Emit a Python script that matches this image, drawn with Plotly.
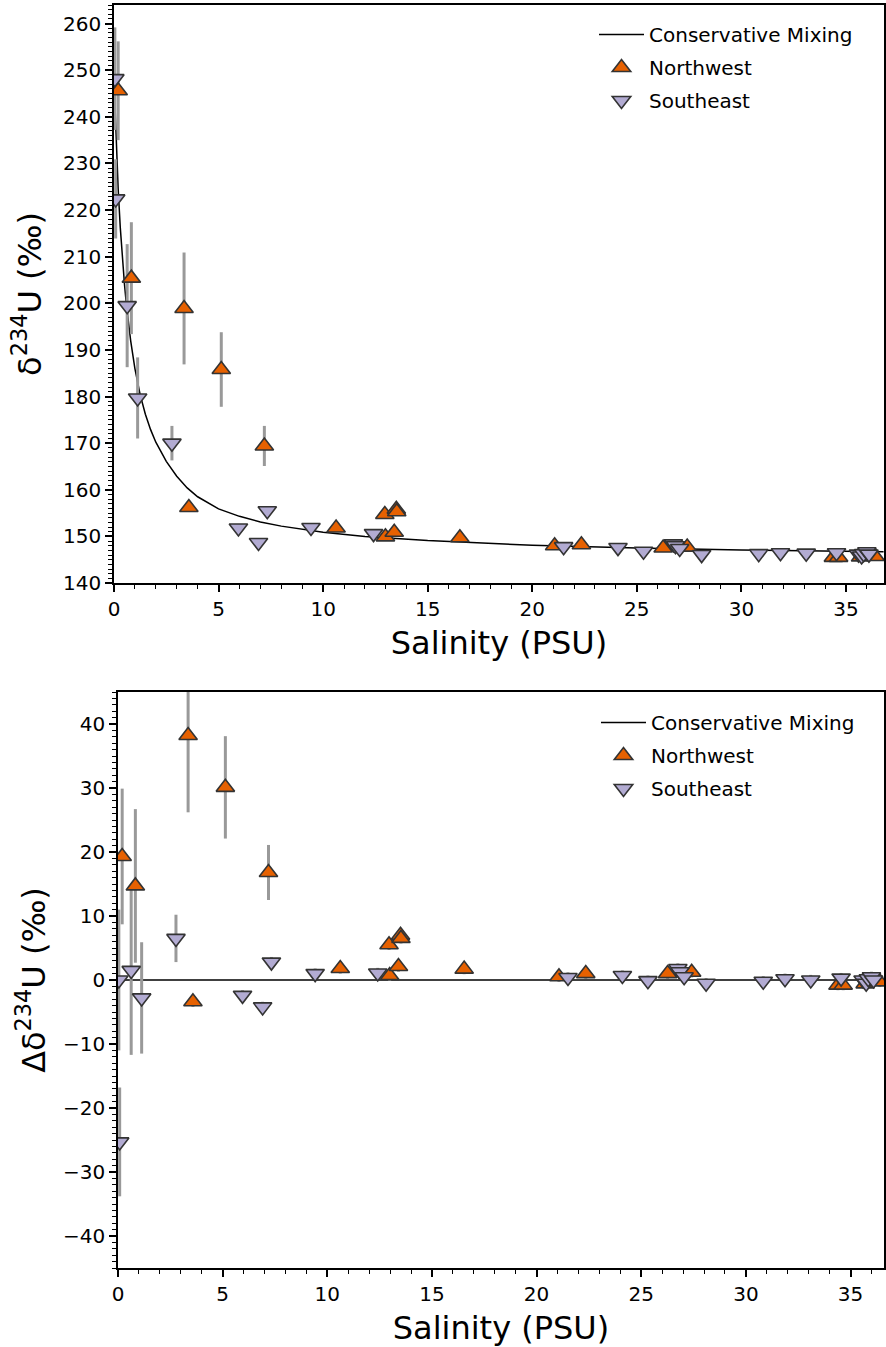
import plotly.graph_objects as go

# ---------------- data ----------------
# Conservative mixing curve (salinity, delta234U)
curve_s = [0, 0.1, 0.2, 0.3, 0.4, 0.5, 0.6, 0.8, 1.0, 1.25, 1.5, 1.75, 2.0, 2.5, 3.0,
           3.5, 4.0, 5.0, 6.0, 7.0, 8.0, 10, 12, 15, 20, 25, 30, 36.8]
curve_d = [248.0, 234.5, 224.5, 216.3, 209.6, 204.1, 199.4, 191.9, 186.0, 180.4, 176.2,
           172.9, 170.2, 166.1, 162.9, 160.4, 158.5, 155.9, 154.3, 153.1, 152.2, 150.9,
           150.0, 149.1, 148.1, 147.5, 147.1, 146.7]

# Northwest stations
nw_sal = [0.20, 0.83, 3.35, 3.58, 5.13, 7.19, 10.62, 12.95, 12.98, 13.40, 13.50, 13.52,
          16.54, 21.07, 22.35, 26.26, 27.41, 34.40, 34.65, 35.70, 36.40]
nw_d234 = [245.6, 205.4, 198.9, 156.2, 185.8, 169.4, 151.8, 154.7, 149.9, 150.9, 155.8, 155.3,
           149.7, 148.0, 148.2, 147.5, 147.7, 145.5, 145.5, 145.6, 145.7]
nw_err = [10.6, 12.0, 12.0, 0.8, 8.0, 4.3, 0.8, 0.8, 0.8, 0.8, 0.8, 0.8,
          0.8, 0.8, 0.8, 0.8, 0.8, 0.8, 0.8, 0.8, 0.8]
nw_delta = [19.3, 14.7, 38.2, -3.4, 30.1, 16.8, 1.8, 5.5, 0.7, 2.1, 7.0, 6.5,
            1.7, 0.5, 1.0, 1.0, 1.2, -0.8, -0.8, -0.6, -0.3]

# Southeast stations
se_sal = [0.04, 0.08, 0.63, 1.13, 2.77, 5.95, 6.91, 7.33, 9.42, 12.41, 21.50, 24.10, 25.32,
          26.75, 26.85, 27.05, 28.10, 30.83, 31.87, 33.10, 34.55, 35.60, 35.75, 35.85,
          36.00, 36.10]
se_d234 = [248.2, 222.4, 199.5, 179.7, 170.0, 151.8, 148.7, 155.5, 151.9, 150.6, 147.8, 147.6,
           146.8, 148.4, 148.0, 147.4, 146.1, 146.3, 146.5, 146.4, 146.5, 146.2, 145.8,
           146.3, 146.7, 146.2]
se_err = [11.0, 8.5, 13.2, 8.7, 3.7, 0.8, 0.8, 0.8, 0.8, 0.8, 0.8, 0.8, 0.8,
          0.8, 0.8, 0.8, 0.8, 0.8, 0.8, 0.8, 0.8, 0.8, 0.8, 0.8, 0.8, 0.8]
se_delta = [0.0, -25.3, 1.5, -2.8, 6.5, -2.4, -4.2, 2.8, 1.0, 1.1, 0.4, 0.7, -0.1,
            1.8, 1.3, 0.5, -0.5, -0.2, 0.2, 0.0, 0.3, 0.0, -0.5, 0.2, 0.5, 0.0]

# zero line for the anomaly panel
zero_s = [0, 36.6]
zero_d = [0, 0]

# ---------------- styling ----------------
W, H = 886, 1347
FONT = "DejaVu Sans"
NW_COLOR = "#e66101"
SE_COLOR = "#b2abd2"
EDGE = "#333333"
ERR_COLOR = "#999999"
MSIZE = 16

fig = go.Figure()


def add_panel(xa, ya, leg, xs_line, ys_line, nw_y, se_y):
    fig.add_trace(go.Scatter(x=xs_line, y=ys_line, mode="lines",
                             line=dict(color="black", width=1.5),
                             name="Conservative Mixing", legendgroup="a" + leg,
                             xaxis=xa, yaxis=ya, legend=leg, showlegend=True))
    # error bars underneath all markers
    fig.add_trace(go.Scatter(x=nw_sal, y=nw_y, mode="markers",
                             marker=dict(size=1, opacity=0),
                             error_y=dict(type="data", array=nw_err, visible=True,
                                          color=ERR_COLOR, thickness=3, width=0),
                             xaxis=xa, yaxis=ya, showlegend=False, hoverinfo="skip"))
    fig.add_trace(go.Scatter(x=se_sal, y=se_y, mode="markers",
                             marker=dict(size=1, opacity=0),
                             error_y=dict(type="data", array=se_err, visible=True,
                                          color=ERR_COLOR, thickness=3, width=0),
                             xaxis=xa, yaxis=ya, showlegend=False, hoverinfo="skip"))
    fig.add_trace(go.Scatter(x=nw_sal, y=nw_y, mode="markers", name="Northwest",
                             legendgroup="b" + leg,
                             marker=dict(symbol="triangle-up", size=MSIZE, color=NW_COLOR,
                                         line=dict(color=EDGE, width=1.6)),
                             xaxis=xa, yaxis=ya, legend=leg))
    fig.add_trace(go.Scatter(x=se_sal, y=se_y, mode="markers", name="Southeast",
                             legendgroup="c" + leg,
                             marker=dict(symbol="triangle-down", size=MSIZE, color=SE_COLOR,
                                         line=dict(color=EDGE, width=1.6)),
                             xaxis=xa, yaxis=ya, legend=leg))


add_panel("x", "y", "legend", curve_s, curve_d, nw_d234, se_d234)
add_panel("x2", "y2", "legend2", zero_s, zero_d, nw_delta, se_delta)

axis_common = dict(showline=True, linecolor="black", linewidth=1.6, mirror=True,
                   ticks="outside", ticklen=7, tickwidth=1.6, tickcolor="black",
                   showgrid=False, zeroline=False, automargin=False,
                   tickfont=dict(family=FONT, size=20, color="black"),
                   minor=dict(ticks="outside", ticklen=4, tickwidth=1.2,
                              tickcolor="black", dtick=1, showgrid=False))

fig.update_layout(
    template="none",
    width=W, height=H,
    margin=dict(l=0, r=0, t=0, b=0, pad=0),
    paper_bgcolor="white", plot_bgcolor="white",
    font=dict(family=FONT, color="black"),
    xaxis=dict(axis_common, domain=[114 / W, 884 / W], anchor="y",
               range=[0, 36.82], dtick=5, tick0=0,
               title=dict(text="Salinity (PSU)", font=dict(size=32), standoff=12)),
    yaxis=dict(axis_common, domain=[1 - 583 / H, 1 - 5 / H], anchor="x",
               range=[140, 264], dtick=10, tick0=0,
               title=dict(text="δ<sup>234</sup>U (‰)", font=dict(size=32), standoff=12)),
    xaxis2=dict(axis_common, domain=[118 / W, 884 / W], anchor="y2",
                range=[0, 36.6], dtick=5, tick0=0,
                title=dict(text="Salinity (PSU)", font=dict(size=32), standoff=12)),
    yaxis2=dict(axis_common, domain=[1 - 1268 / H, 1 - 692 / H], anchor="x2",
                range=[-45, 45], dtick=10, tick0=0,
                title=dict(text="Δδ<sup>234</sup>U (‰)", font=dict(size=32), standoff=8)),
    legend=dict(x=594 / W, y=1 - 15 / H, xanchor="left", yanchor="top",
                bgcolor="rgba(0,0,0,0)", font=dict(family=FONT, size=20),
                traceorder="grouped", tracegroupgap=4, itemwidth=45),
    legend2=dict(x=596 / W, y=1 - 703 / H, xanchor="left", yanchor="top",
                 bgcolor="rgba(0,0,0,0)", font=dict(family=FONT, size=20),
                 traceorder="grouped", tracegroupgap=4, itemwidth=45),
)

fig.write_html("out.html")
